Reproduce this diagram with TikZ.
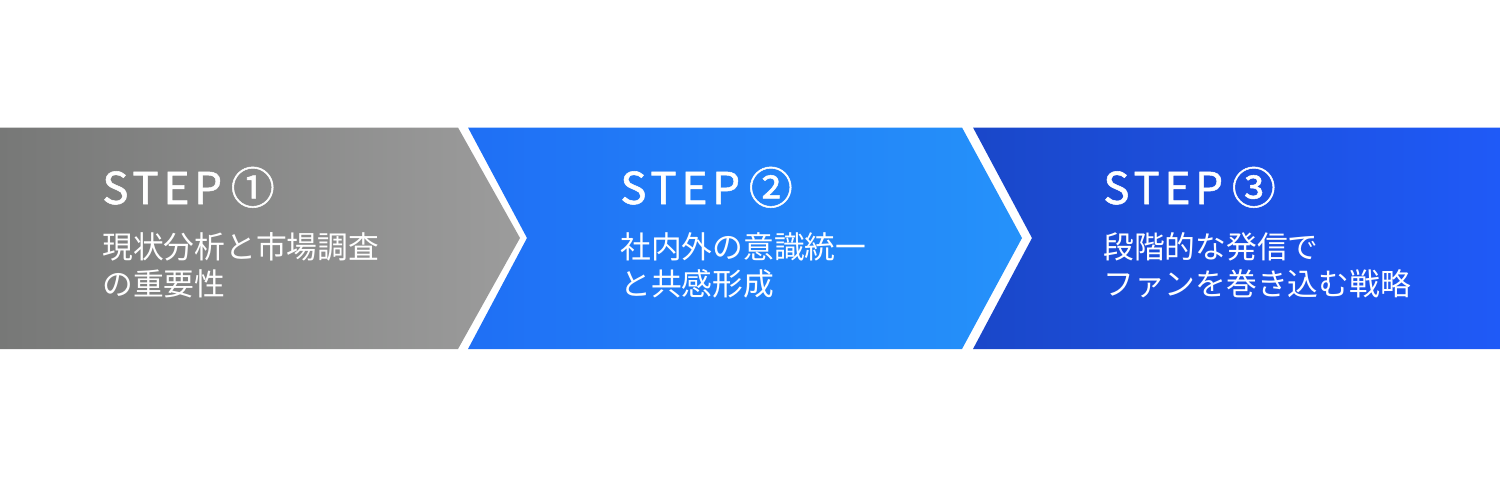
\documentclass[tikz,border=0pt]{standalone}
\usepackage{fontspec}
\setmainfont{Noto Sans CJK JP}
\newfontfamily\jpfont{Noto Sans CJK JP}
\newfontfamily\stepfont[FakeBold=1.2,LetterSpace=11]{Noto Sans CJK JP}
\usetikzlibrary{positioning}

\definecolor{grayL}{HTML}{777877}
\definecolor{grayR}{HTML}{9C9C9C}
\definecolor{blueL}{HTML}{1F6FF5}
\definecolor{blueR}{HTML}{2592FA}
\definecolor{navyL}{HTML}{1A47C9}
\definecolor{navyR}{HTML}{1F5AF7}

\tikzset{
  steptitle/.style={anchor=base west,inner sep=0pt,text=white,
    font=\fontsize{25}{25}\selectfont\stepfont},
  steptext/.style={anchor=base west,inner sep=0pt,text=white,align=left,
    font=\fontsize{17.5}{21}\selectfont\jpfont}
}

\begin{document}
\begin{tikzpicture}[x=0.02cm,y=-0.02cm]
        \useasboundingbox (0,0) rectangle (1500,478);
        \coordinate (s1) at (102,204);
        \coordinate (s2) at (620,204);
        \coordinate (s3) at (1103,204);
        % base of a two-line node is its last line
        \coordinate (t1) at (102,295);
        \coordinate (t2) at (620,295);
        \coordinate (t3) at (1103,295);
        \shade[left color=grayL,right color=grayR] (0,127.5) -- (458,127.5) -- (520,238) -- (458,349) -- (0,349) -- cycle;
        \shade[left color=blueL,right color=blueR] (468,127.5) -- (962,127.5) -- (1022,238) -- (962,349) -- (468,349) -- (527,238) -- cycle;
        \shade[left color=navyL,right color=navyR] (973,127.5) -- (1500,127.5) -- (1500,349) -- (973,349) -- (1032,238) -- cycle;
        \node[steptitle] (title1) at (s1) {STEP\kern5pt①};
        \node[steptitle] (title2) at (s2) {STEP\kern5pt②};
        \node[steptitle] (title3) at (s3) {STEP\kern5pt③};
        \node[steptext] (text1) at (t1) {現状分析と市場調査\\の重要性};
        \node[steptext] (text2) at (t2) {社内外の意識統一\\と共感形成};
        \node[steptext] (text3) at (t3) {段階的な発信で\\ファンを巻き込む戦略};
\end{tikzpicture}
\end{document}
